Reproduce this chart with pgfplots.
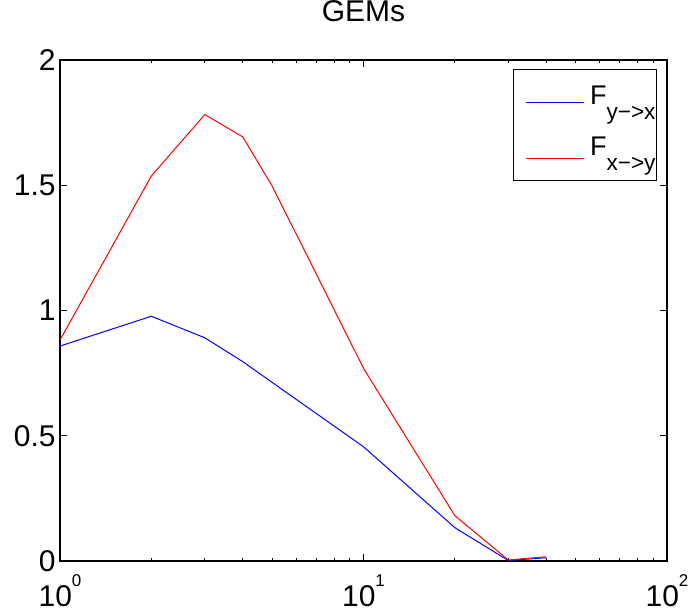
\documentclass[border=0pt]{standalone}
\usepackage{pgfplots}
\pgfplotsset{compat=1.18}
\usepackage{fontspec}
\setmainfont{Liberation Sans}
\newcommand{\sub}[1]{\raisebox{-7.5pt}{\fontsize{11.3}{11.3}\selectfont #1}}
\newcommand{\ex}[1]{10\raisebox{10pt}{\fontsize{8.5}{8.5}\selectfont #1}}
\begin{document}
\begin{tikzpicture}
\begin{axis}[
  scale only axis, width=303.5pt, height=250.5pt,
  xmode=log, xmin=1, xmax=100, ymin=0, ymax=2,
  xtick={1,10,100},
  xticklabels={\ex{0},\ex{1},\ex{2}},
  minor xtick={2,3,4,5,6,7,8,9,20,30,40,50,60,70,80,90},
  ytick={0,0.5,1,1.5,2},
  yticklabels={0,0.5,1,1.5,2},
  tick align=inside,
  major tick length=3.3pt, minor tick length=1.7pt,
  tick style={black, line width=0.5pt},
  axis line style={line width=0.85pt},
  tick label style={font=\fontsize{15}{17}\selectfont},
  yticklabel style={xshift=1.3pt},
  xticklabel style={anchor=base, yshift=-23pt},
  title={GEMs},
  title style={font=\fontsize{15}{17}\selectfont, at={(0.5,1)}, anchor=base, yshift=13pt},
  legend style={at={(1,1)}, xshift=-5pt, yshift=-4.5pt, anchor=north east,
    draw=black, line width=0.5pt, inner xsep=0.5pt, inner ysep=3.5pt,
    font=\fontsize{13.5}{15}\selectfont, row sep=7.3pt, column sep=3pt,
    nodes={inner sep=0pt, text depth=9pt}},
  legend cell align=left,
  legend image code/.code={\path (0pt,-1.5pt); \draw[#1, line width=0.5pt] (5.5pt,-1.5pt) -- (34.5pt,-1.5pt);},
]
\addplot[blue, line width=0.5pt] coordinates {
 (1,0.858) (2,0.977) (3,0.891) (4,0.796) (5,0.713) (10,0.456) (20,0.133) (30,0.002) (40,0.013)};
\addlegendentry{\rule{0pt}{14pt}F\sub{y−>x}}
\addplot[red, line width=0.5pt] coordinates {
 (1,0.882) (2,1.537) (3,1.782) (4,1.693) (5,1.497) (10,0.769) (20,0.181) (30,0.004) (40,0.017)};
\addlegendentry{F\sub{x−>y}}
\end{axis}
\pgfresetboundingbox
\path (current axis.south west) ++(-30pt,-25.5pt) coordinate (bl);
\path (current axis.north east) ++(13.5pt,30pt) coordinate (tr);
\path[use as bounding box] (bl) rectangle (tr);
\end{tikzpicture}
\end{document}
